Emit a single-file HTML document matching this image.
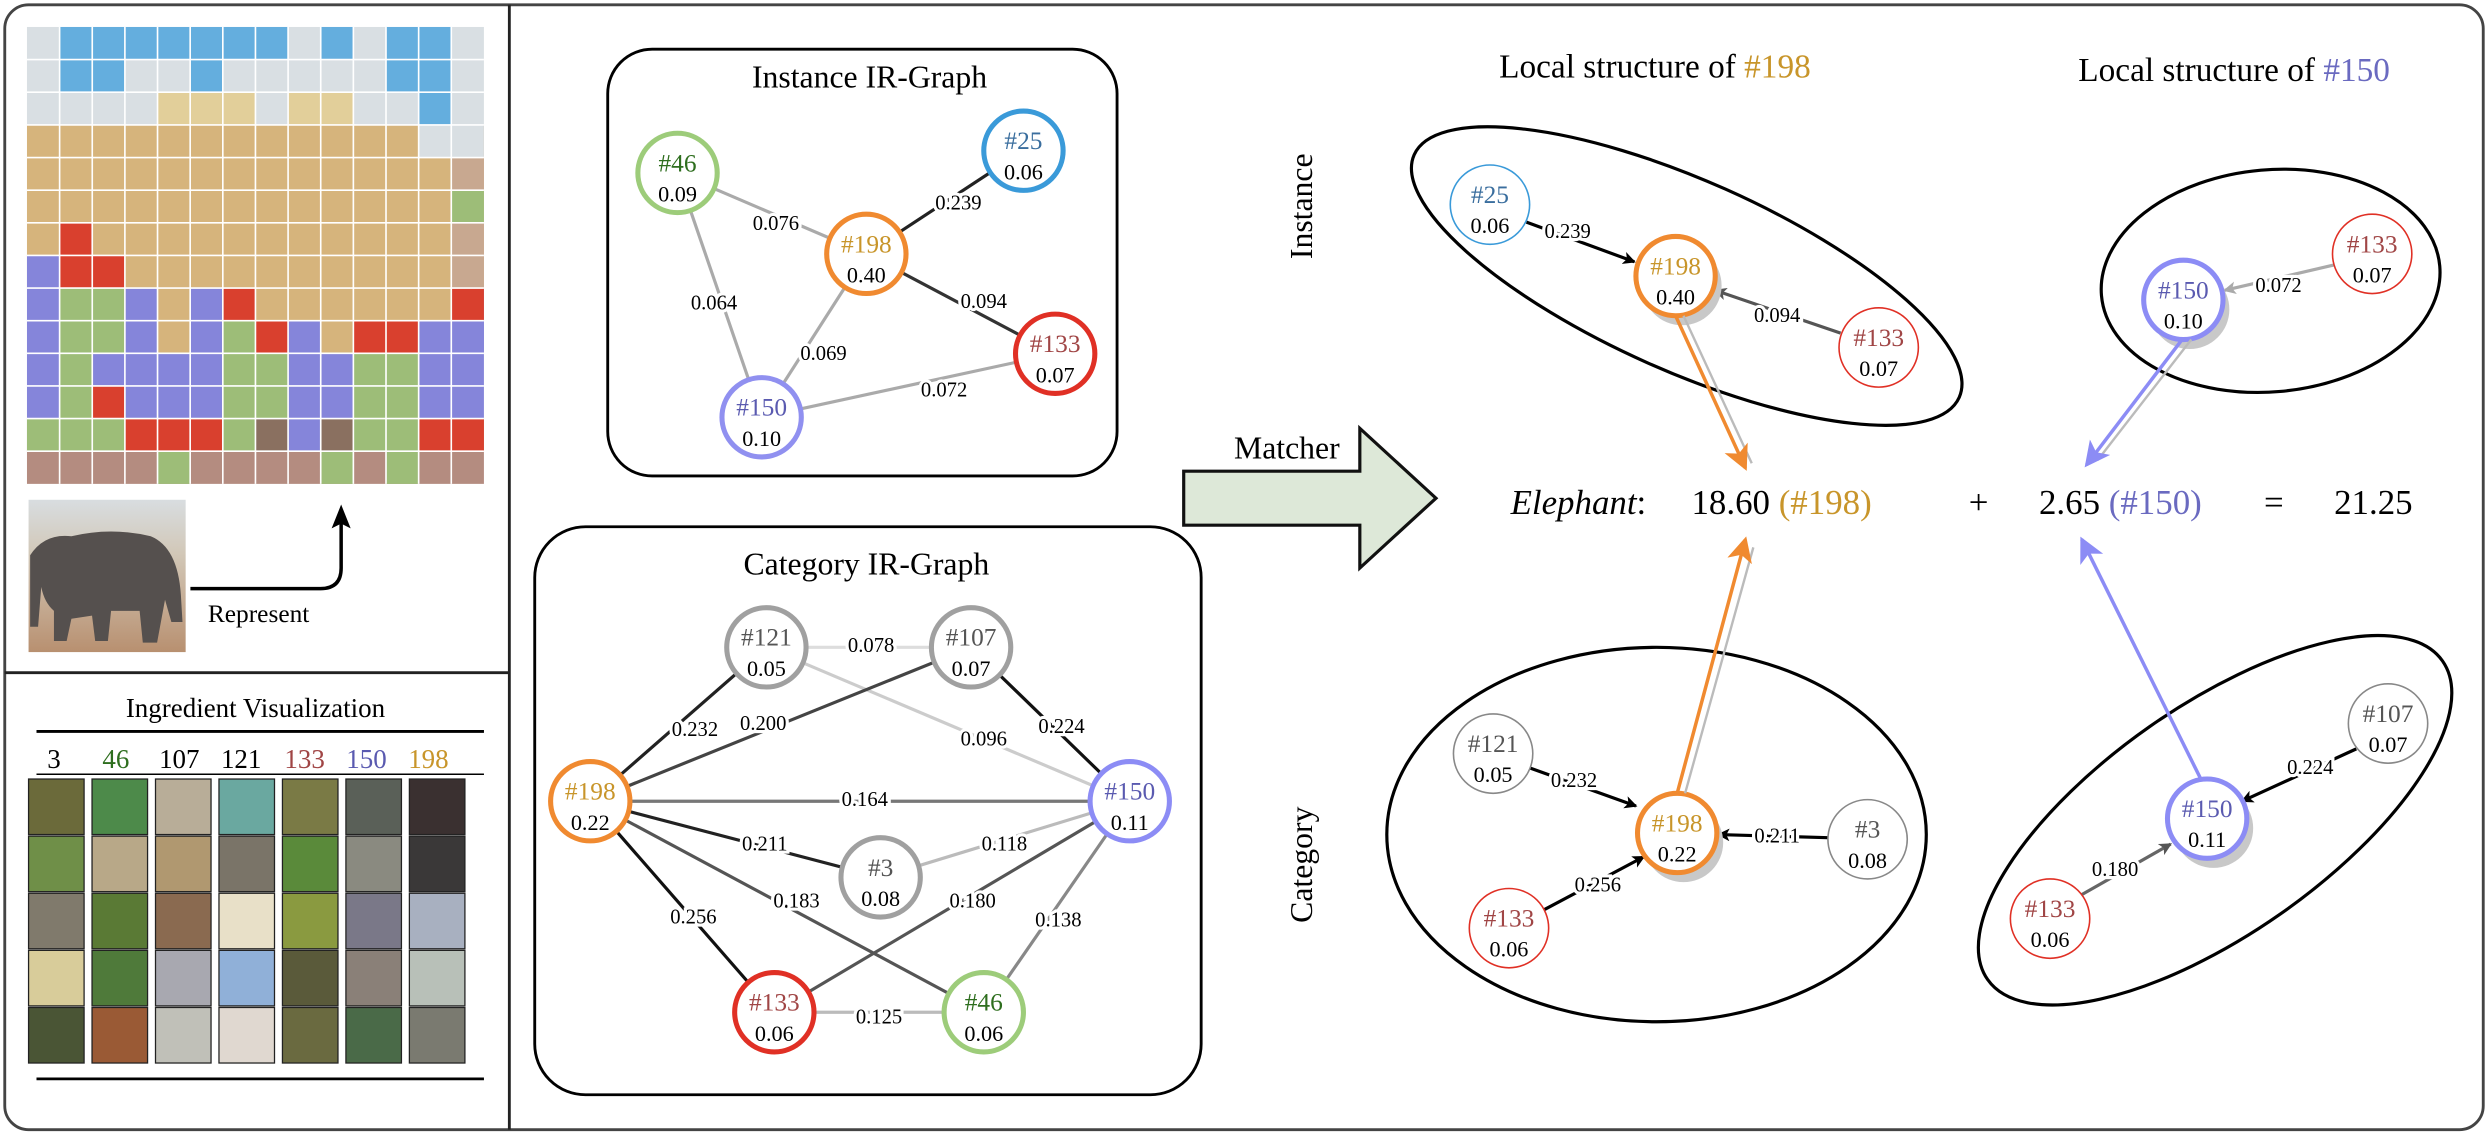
<!DOCTYPE html>
<html><head><meta charset="utf-8"><style>
html,body{margin:0;padding:0;background:#fff;}
svg{display:block;font-family:"Liberation Serif","Times New Roman",Times,"Nimbus Roman","DejaVu Serif",serif;}
svg text{font-family:"Liberation Serif","Times New Roman",Times,"Nimbus Roman","DejaVu Serif",serif;}
.e{font-size:13px;text-anchor:middle;paint-order:stroke;stroke:#fff;stroke-width:4px;fill:#000;}
.id{font-size:16px;text-anchor:middle;}
.v{font-size:14px;text-anchor:middle;fill:#000;}
</style></head><body>
<svg width="2488" height="1136" viewBox="0 0 1568 716" preserveAspectRatio="none" xmlns="http://www.w3.org/2000/svg">
<defs>
<marker id="ak" markerWidth="8" markerHeight="8" refX="7" refY="4" orient="auto" markerUnits="userSpaceOnUse"><path d="M0,0 L8,4 L0,8 L2,4z" fill="#000"/></marker>
<marker id="ag" markerWidth="8" markerHeight="8" refX="7" refY="4" orient="auto" markerUnits="userSpaceOnUse"><path d="M0,0 L8,4 L0,8 L2,4z" fill="#555"/></marker>
<marker id="al" markerWidth="8" markerHeight="8" refX="7" refY="4" orient="auto" markerUnits="userSpaceOnUse"><path d="M0,0 L8,4 L0,8 L2,4z" fill="#aaa"/></marker>
<marker id="ao" markerWidth="16" markerHeight="16" refX="14" refY="8" orient="auto" markerUnits="userSpaceOnUse"><path d="M0,0 L16,8 L0,16 L4,8z" fill="#f08a30"/></marker>
<marker id="ap" markerWidth="16" markerHeight="16" refX="14" refY="8" orient="auto" markerUnits="userSpaceOnUse"><path d="M0,0 L16,8 L0,16 L4,8z" fill="#8c8cf5"/></marker>
<linearGradient id="sky" x1="0" y1="0" x2="0" y2="1"><stop offset="0" stop-color="#d8dde0"/><stop offset="0.35" stop-color="#d2c8b8"/><stop offset="1" stop-color="#b89070"/></linearGradient>
</defs>
<rect x="3" y="3" width="1562" height="709" rx="15" fill="#fff" stroke="#444" stroke-width="1.8"/>
<line x1="321" y1="3" x2="321" y2="712" stroke="#222" stroke-width="1.8"/>
<line x1="3" y1="424" x2="321" y2="424" stroke="#222" stroke-width="1.8"/>

<g transform="translate(17,17) scale(20.57)">
<rect x="0" y="0" width="14" height="3" fill="#d9dfe3"/>
<rect x="0" y="3" width="14" height="5" fill="#d6b47c"/>
<rect x="0" y="8" width="14" height="4" fill="#8585da"/>
<rect x="0" y="12" width="14" height="2" fill="#b48c80"/>
<g fill="#64aede">
<rect x="1" y="0" width="7" height="1"/><rect x="9" y="0" width="1" height="1"/><rect x="11" y="0" width="2" height="2"/>
<rect x="1" y="1" width="2" height="1"/><rect x="5" y="1" width="1" height="1"/><rect x="12" y="2" width="1" height="1"/></g>
<g fill="#e2cf9a"><rect x="4" y="2" width="3" height="1"/><rect x="8" y="2" width="2" height="1"/></g>
<g fill="#d9dfe3"><rect x="12" y="3" width="2" height="1"/></g>
<g fill="#c8a890"><rect x="13" y="4" width="1" height="1"/><rect x="13" y="6" width="1" height="2"/></g>
<g fill="#9dbd78">
<rect x="13" y="5" width="1" height="1"/><rect x="1" y="8" width="2" height="2"/><rect x="6" y="9" width="1" height="1"/>
<rect x="1" y="10" width="1" height="2"/><rect x="6" y="10" width="2" height="2"/><rect x="10" y="10" width="2" height="2"/>
<rect x="0" y="12" width="3" height="1"/><rect x="6" y="12" width="1" height="1"/><rect x="10" y="12" width="2" height="1"/>
<rect x="4" y="13" width="1" height="1"/><rect x="9" y="13" width="1" height="1"/><rect x="11" y="13" width="1" height="1"/></g>
<g fill="#d9402e">
<rect x="1" y="6" width="1" height="1"/><rect x="1" y="7" width="2" height="1"/><rect x="6" y="8" width="1" height="1"/><rect x="13" y="8" width="1" height="1"/>
<rect x="7" y="9" width="1" height="1"/><rect x="10" y="9" width="2" height="1"/><rect x="2" y="11" width="1" height="1"/>
<rect x="3" y="12" width="3" height="1"/><rect x="12" y="12" width="2" height="1"/></g>
<g fill="#8585da"><rect x="0" y="7" width="1" height="1"/></g>
<g fill="#d6b47c"><rect x="4" y="8" width="1" height="2"/><rect x="7" y="8" width="6" height="1"/><rect x="9" y="9" width="1" height="1"/></g>
<g fill="#8585da"><rect x="8" y="9" width="1" height="1"/><rect x="12" y="9" width="2" height="1"/><rect x="8" y="12" width="1" height="1"/></g>
<g fill="#8a7060"><rect x="7" y="12" width="1" height="1"/><rect x="9" y="12" width="1" height="1"/></g>
<g stroke="#fff" stroke-width="0.05" fill="none">
<path d="M1 0V14M2 0V14M3 0V14M4 0V14M5 0V14M6 0V14M7 0V14M8 0V14M9 0V14M10 0V14M11 0V14M12 0V14M13 0V14"/>
<path d="M0 1H14M0 2H14M0 3H14M0 4H14M0 5H14M0 6H14M0 7H14M0 8H14M0 9H14M0 10H14M0 11H14M0 12H14M0 13H14"/>
</g>
</g>

<rect x="18" y="315" width="99" height="96" fill="url(#sky)"/>
<path d="M19 350 Q28 336 45 338 Q70 332 95 338 Q112 345 114 375 L115 392 L108 392 L104 378 L99 405 L90 405 L88 385 L70 385 L68 404 L60 404 L58 388 L45 390 L42 404 L34 404 L34 385 Q28 380 26 370 L24 395 L19 395Z" fill="#55504e"/>
<path d="M120 371 H202 Q215 371 215 358 V325" fill="none" stroke="#000" stroke-width="2.2"/>
<path d="M215 318 L221 333 L215 330 L209 333Z" fill="#000"/>
<text x="131" y="392" font-size="16">Represent</text>

<text x="161" y="452" font-size="17" text-anchor="middle">Ingredient Visualization</text>
<line x1="23" y1="461" x2="305" y2="461" stroke="#000" stroke-width="1.8"/>
<g font-size="17" text-anchor="middle">
<text x="34" y="484">3</text><text x="73" y="484" fill="#2e6e1e">46</text><text x="113" y="484">107</text><text x="152" y="484">121</text><text x="192" y="484" fill="#a04545">133</text><text x="231" y="484" fill="#5a5ab0">150</text><text x="270" y="484" fill="#c8952a">198</text>
</g>
<line x1="23" y1="488" x2="305" y2="488" stroke="#000" stroke-width="1"/>
<g stroke="#222" stroke-width="0.8">
<rect x="18" y="491" width="35" height="35" fill="#6b6a3a"/><rect x="18" y="527" width="35" height="35" fill="#6f8f48"/><rect x="18" y="563" width="35" height="35" fill="#807a6c"/><rect x="18" y="599" width="35" height="35" fill="#d8cc9a"/><rect x="18" y="635" width="35" height="35" fill="#4a5535"/>
<rect x="58" y="491" width="35" height="35" fill="#4d8a4a"/><rect x="58" y="527" width="35" height="35" fill="#b8a888"/><rect x="58" y="563" width="35" height="35" fill="#5a7a35"/><rect x="58" y="599" width="35" height="35" fill="#4f7a3a"/><rect x="58" y="635" width="35" height="35" fill="#9a5a35"/>
<rect x="98" y="491" width="35" height="35" fill="#b8ad98"/><rect x="98" y="527" width="35" height="35" fill="#b09870"/><rect x="98" y="563" width="35" height="35" fill="#8a6a50"/><rect x="98" y="599" width="35" height="35" fill="#a8a8b0"/><rect x="98" y="635" width="35" height="35" fill="#c0c0b8"/>
<rect x="138" y="491" width="35" height="35" fill="#6aa8a0"/><rect x="138" y="527" width="35" height="35" fill="#7a7468"/><rect x="138" y="563" width="35" height="35" fill="#e8e0c8"/><rect x="138" y="599" width="35" height="35" fill="#90b0d8"/><rect x="138" y="635" width="35" height="35" fill="#e0d8d0"/>
<rect x="178" y="491" width="35" height="35" fill="#7a7a45"/><rect x="178" y="527" width="35" height="35" fill="#5a8a3a"/><rect x="178" y="563" width="35" height="35" fill="#8a9a40"/><rect x="178" y="599" width="35" height="35" fill="#5a5a3a"/><rect x="178" y="635" width="35" height="35" fill="#6a6a40"/>
<rect x="218" y="491" width="35" height="35" fill="#5a6058"/><rect x="218" y="527" width="35" height="35" fill="#8a8a80"/><rect x="218" y="563" width="35" height="35" fill="#7a7888"/><rect x="218" y="599" width="35" height="35" fill="#8a8078"/><rect x="218" y="635" width="35" height="35" fill="#4a6a48"/>
<rect x="258" y="491" width="35" height="35" fill="#3a3030"/><rect x="258" y="527" width="35" height="35" fill="#3a3838"/><rect x="258" y="563" width="35" height="35" fill="#a8b0c0"/><rect x="258" y="599" width="35" height="35" fill="#b8c0b8"/><rect x="258" y="635" width="35" height="35" fill="#7a7a70"/>
</g>
<line x1="23" y1="680" x2="305" y2="680" stroke="#000" stroke-width="1.8"/>

<rect x="383" y="31" width="321" height="269" rx="28" fill="#fff" stroke="#000" stroke-width="1.8"/>
<text x="548" y="55" font-size="20" text-anchor="middle">Instance IR-Graph</text>
<g stroke-width="2">
<line x1="427" y1="109" x2="546" y2="160" stroke="#aaa"/>
<line x1="546" y1="160" x2="645" y2="95" stroke="#222"/>
<line x1="427" y1="109" x2="480" y2="263" stroke="#aaa"/>
<line x1="546" y1="160" x2="480" y2="263" stroke="#aaa"/>
<line x1="546" y1="160" x2="665" y2="223" stroke="#333"/>
<line x1="480" y1="263" x2="665" y2="223" stroke="#aaa"/>
</g>
<text class="e" x="489" y="145">0.076</text><text class="e" x="604" y="132">0.239</text><text class="e" x="450" y="195">0.064</text><text class="e" x="519" y="227">0.069</text><text class="e" x="620" y="194">0.094</text><text class="e" x="595" y="250">0.072</text>
<g fill="#fff" stroke-width="3.2">
<circle cx="427" cy="109" r="25" stroke="#9dcc7a"/><circle cx="645" cy="95" r="25" stroke="#3a9ad9"/><circle cx="546" cy="160" r="25" stroke="#f08a30"/><circle cx="665" cy="223" r="25" stroke="#e03025"/><circle cx="480" cy="263" r="25" stroke="#9090f0"/>
</g>
<text class="id" x="427" y="108" fill="#2e6e1e">#46</text><text class="v" x="427" y="127">0.09</text>
<text class="id" x="645" y="94" fill="#3a6e9e">#25</text><text class="v" x="645" y="113">0.06</text>
<text class="id" x="546" y="159" fill="#c8952a">#198</text><text class="v" x="546" y="178">0.40</text>
<text class="id" x="665" y="222" fill="#a04545">#133</text><text class="v" x="665" y="241">0.07</text>
<text class="id" x="480" y="262" fill="#5a5ab0">#150</text><text class="v" x="480" y="281">0.10</text>

<rect x="337" y="332" width="420" height="358" rx="32" fill="#fff" stroke="#000" stroke-width="1.8"/>
<text x="546" y="362" font-size="20" text-anchor="middle">Category IR-Graph</text>
<g stroke-width="2">
<line x1="483" y1="408" x2="612" y2="408" stroke="#ddd"/>
<line x1="483" y1="408" x2="712" y2="505" stroke="#ccc"/>
<line x1="372" y1="505" x2="483" y2="408" stroke="#222"/>
<line x1="372" y1="505" x2="612" y2="408" stroke="#444"/>
<line x1="612" y1="408" x2="712" y2="505" stroke="#111"/>
<line x1="372" y1="505" x2="712" y2="505" stroke="#777"/>
<line x1="372" y1="505" x2="555" y2="553" stroke="#222"/>
<line x1="372" y1="505" x2="620" y2="638" stroke="#555"/>
<line x1="555" y1="553" x2="712" y2="505" stroke="#bbb"/>
<line x1="488" y1="638" x2="712" y2="505" stroke="#555"/>
<line x1="372" y1="505" x2="488" y2="638" stroke="#111"/>
<line x1="620" y1="638" x2="712" y2="505" stroke="#888"/>
<line x1="488" y1="638" x2="620" y2="638" stroke="#bbb"/>
</g>
<text class="e" x="549" y="411">0.078</text><text class="e" x="620" y="470">0.096</text><text class="e" x="438" y="464">0.232</text><text class="e" x="481" y="460">0.200</text><text class="e" x="669" y="462">0.224</text><text class="e" x="545" y="508">0.164</text><text class="e" x="482" y="536">0.211</text><text class="e" x="502" y="572">0.183</text><text class="e" x="633" y="536">0.118</text><text class="e" x="613" y="572">0.180</text><text class="e" x="437" y="582">0.256</text><text class="e" x="667" y="584">0.138</text><text class="e" x="554" y="645">0.125</text>
<g fill="#fff" stroke-width="3.2">
<circle cx="483" cy="408" r="25" stroke="#a0a0a0"/><circle cx="612" cy="408" r="25" stroke="#a0a0a0"/><circle cx="372" cy="505" r="25" stroke="#f08a30"/><circle cx="712" cy="505" r="25" stroke="#8c8cf5"/><circle cx="555" cy="553" r="25" stroke="#a0a0a0"/><circle cx="488" cy="638" r="25" stroke="#e03025"/><circle cx="620" cy="638" r="25" stroke="#9dcc7a"/>
</g>
<text class="id" x="483" y="407" fill="#555">#121</text><text class="v" x="483" y="426">0.05</text>
<text class="id" x="612" y="407" fill="#555">#107</text><text class="v" x="612" y="426">0.07</text>
<text class="id" x="372" y="504" fill="#c8952a">#198</text><text class="v" x="372" y="523">0.22</text>
<text class="id" x="712" y="504" fill="#5a5ab0">#150</text><text class="v" x="712" y="523">0.11</text>
<text class="id" x="555" y="552" fill="#555">#3</text><text class="v" x="555" y="571">0.08</text>
<text class="id" x="488" y="637" fill="#a04545">#133</text><text class="v" x="488" y="656">0.06</text>
<text class="id" x="620" y="637" fill="#2e6e1e">#46</text><text class="v" x="620" y="656">0.06</text>

<path d="M746 297 H857 V270 L905 314 L857 358 V331 H746Z" fill="#dde8d8" stroke="#111" stroke-width="2"/>
<text x="811" y="289" font-size="20" text-anchor="middle">Matcher</text>

<text x="1043" y="49" font-size="21" text-anchor="middle">Local structure of <tspan fill="#c8952a">#198</tspan></text>
<text x="1408" y="51" font-size="21" text-anchor="middle">Local structure of <tspan fill="#6a6ac0">#150</tspan></text>
<text transform="translate(827,130) rotate(-90)" font-size="20" text-anchor="middle">Instance</text>
<text transform="translate(827,545) rotate(-90)" font-size="20" text-anchor="middle">Category</text>

<ellipse cx="1063" cy="174" rx="188" ry="60" transform="rotate(24 1063 174)" fill="none" stroke="#000" stroke-width="2"/>
<ellipse cx="1431" cy="177" rx="107" ry="70" transform="rotate(-5 1431 177)" fill="none" stroke="#000" stroke-width="2"/>
<ellipse cx="1044" cy="526" rx="170" ry="118" fill="none" stroke="#000" stroke-width="2"/>
<ellipse cx="1396" cy="517" rx="175" ry="72" transform="rotate(-35 1396 517)" fill="none" stroke="#000" stroke-width="2"/>

<line x1="962" y1="140" x2="1030" y2="165" stroke="#000" stroke-width="2" marker-end="url(#ak)"/>
<line x1="1160" y1="210" x2="1081" y2="183" stroke="#555" stroke-width="2" marker-end="url(#ag)"/>
<text class="e" x="988" y="150">0.239</text><text class="e" x="1120" y="203">0.094</text>
<circle cx="1060" cy="180" r="25" fill="#c8c8c8"/>
<circle cx="939" cy="129" r="25" fill="#fff" stroke="#3a9ad9" stroke-width="1"/>
<circle cx="1056" cy="174" r="25" fill="#fff" stroke="#f08a30" stroke-width="3.2"/>
<circle cx="1184" cy="219" r="25" fill="#fff" stroke="#e03025" stroke-width="1"/>
<text class="id" x="939" y="128" fill="#3a6e9e">#25</text><text class="v" x="939" y="147">0.06</text>
<text class="id" x="1056" y="173" fill="#c8952a">#198</text><text class="v" x="1056" y="192">0.40</text>
<text class="id" x="1184" y="218" fill="#a04545">#133</text><text class="v" x="1184" y="237">0.07</text>

<line x1="1471" y1="167" x2="1402" y2="183" stroke="#aaa" stroke-width="2" marker-end="url(#al)"/>
<text class="e" x="1436" y="184">0.072</text>
<circle cx="1380" cy="195" r="25" fill="#c8c8c8"/>
<circle cx="1376" cy="189" r="25" fill="#fff" stroke="#8c8cf5" stroke-width="3.2"/>
<circle cx="1495" cy="160" r="25" fill="#fff" stroke="#e03025" stroke-width="1"/>
<text class="id" x="1376" y="188" fill="#5a5ab0">#150</text><text class="v" x="1376" y="207">0.10</text>
<text class="id" x="1495" y="159" fill="#a04545">#133</text><text class="v" x="1495" y="178">0.07</text>

<line x1="964" y1="484" x2="1031" y2="508" stroke="#000" stroke-width="2" marker-end="url(#ak)"/>
<line x1="1152" y1="528" x2="1083" y2="526" stroke="#000" stroke-width="2" marker-end="url(#ak)"/>
<line x1="972" y1="574" x2="1036" y2="540" stroke="#000" stroke-width="2" marker-end="url(#ak)"/>
<text class="e" x="992" y="496">0.232</text><text class="e" x="1120" y="531">0.211</text><text class="e" x="1007" y="562">0.256</text>
<circle cx="1061" cy="531" r="25" fill="#c8c8c8"/>
<circle cx="941" cy="475" r="25" fill="#fff" stroke="#888" stroke-width="1"/>
<circle cx="1057" cy="525" r="25" fill="#fff" stroke="#f08a30" stroke-width="3.2"/>
<circle cx="1177" cy="529" r="25" fill="#fff" stroke="#888" stroke-width="1"/>
<circle cx="951" cy="585" r="25" fill="#fff" stroke="#e03025" stroke-width="1"/>
<text class="id" x="941" y="474" fill="#555">#121</text><text class="v" x="941" y="493">0.05</text>
<text class="id" x="1057" y="524" fill="#c8952a">#198</text><text class="v" x="1057" y="543">0.22</text>
<text class="id" x="1177" y="528" fill="#555">#3</text><text class="v" x="1177" y="547">0.08</text>
<text class="id" x="951" y="584" fill="#a04545">#133</text><text class="v" x="951" y="603">0.06</text>

<line x1="1485" y1="472" x2="1413" y2="505" stroke="#000" stroke-width="2" marker-end="url(#ak)"/>
<line x1="1310" y1="565" x2="1368" y2="532" stroke="#666" stroke-width="2" marker-end="url(#ag)"/>
<text class="e" x="1456" y="488">0.224</text><text class="e" x="1333" y="552">0.180</text>
<circle cx="1395" cy="522" r="25" fill="#c8c8c8"/>
<circle cx="1505" cy="456" r="25" fill="#fff" stroke="#888" stroke-width="1"/>
<circle cx="1391" cy="516" r="25" fill="#fff" stroke="#8c8cf5" stroke-width="3.2"/>
<circle cx="1292" cy="579" r="25" fill="#fff" stroke="#e03025" stroke-width="1"/>
<text class="id" x="1505" y="455" fill="#555">#107</text><text class="v" x="1505" y="474">0.07</text>
<text class="id" x="1391" y="515" fill="#5a5ab0">#150</text><text class="v" x="1391" y="534">0.11</text>
<text class="id" x="1292" y="578" fill="#a04545">#133</text><text class="v" x="1292" y="597">0.06</text>

<line x1="1061" y1="199" x2="1104" y2="292" stroke="#bbb" stroke-width="1.5"/>
<line x1="1056" y1="199" x2="1100" y2="295" stroke="#f08a30" stroke-width="2.2" marker-end="url(#ao)"/>
<line x1="1381" y1="214" x2="1322" y2="290" stroke="#bbb" stroke-width="1.5"/>
<line x1="1376" y1="213" x2="1315" y2="293" stroke="#8c8cf5" stroke-width="2.2" marker-end="url(#ap)"/>
<line x1="1062" y1="500" x2="1105" y2="345" stroke="#bbb" stroke-width="1.5"/>
<line x1="1057" y1="500" x2="1100" y2="340" stroke="#f08a30" stroke-width="2.2" marker-end="url(#ao)"/>
<line x1="1387" y1="491" x2="1312" y2="340" stroke="#8c8cf5" stroke-width="2.2" marker-end="url(#ap)"/>

<g font-size="22">
<text x="952" y="324"><tspan font-style="italic">Elephant</tspan>:</text>
<text x="1066" y="324">18.60 <tspan fill="#c8952a">(#198)</tspan></text>
<text x="1247" y="324" text-anchor="middle">+</text>
<text x="1285" y="324">2.65 <tspan fill="#6a6ac0">(#150)</tspan></text>
<text x="1433" y="324" text-anchor="middle">=</text>
<text x="1471" y="324">21.25</text>
</g>
</svg>
</body></html>
